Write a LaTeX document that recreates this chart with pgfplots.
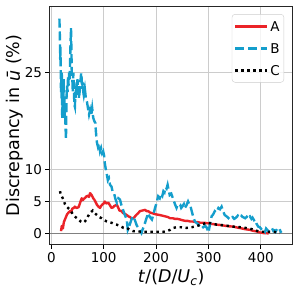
\documentclass[border=0pt]{standalone}
\usepackage{fontspec}
\setmainfont{DejaVu Sans}
\usepackage{pgfplots}
\pgfplotsset{compat=1.18}
\definecolor{cA}{RGB}{235,35,40}
\definecolor{cB}{RGB}{20,158,204}
\begin{document}
\begin{tikzpicture}
\begin{axis}[
  scale only axis, width=242.3pt, height=237pt,
  xmin=-2.5, xmax=460, ymin=-1.6, ymax=35.2,
  xtick={0,100,200,300,400}, ytick={0,5,10,25},
  grid=major, grid style={color=black!20, line width=0.9pt},
  tick align=outside, major tick length=4.5pt,
  tick style={black, line width=0.9pt}, tick pos=left,
  axis line style={black!85, line width=1pt},
  ticklabel style={font=\fontsize{13.5}{16}\selectfont},
  /pgf/number format/assume math mode=true,
  xlabel={\textit{t}/(\textit{D}/\textit{U}\textsubscript{\textit{c}})},
  ylabel={Discrepancy in \textit{ū} (\%)},
  label style={font=\fontsize{17.5}{20}\selectfont},
  xlabel style={at={(axis description cs:0.5,-0.1414)}, anchor=center},
  ylabel style={at={(axis description cs:-0.1444,0.5)}, anchor=center},
  legend style={at={(0.966,0.970)}, anchor=north east, draw=black!20,
    rounded corners=3pt, fill=white, fill opacity=0.8, text opacity=1,
    font=\fontsize{13.5}{16}\selectfont, row sep=8pt, inner xsep=2pt, inner ysep=5pt,
    nodes={inner sep=2pt, text height=10pt, text depth=0pt}},
  legend cell align=left,
  legend image code/.code={\draw[#1] (0pt,0pt) -- (32pt,0pt);},
]
\draw[black!50, line width=1.5pt] (axis cs:-2.5,0) -- (axis cs:460,0);

\addplot[cA, line width=2.4pt, line join=round] coordinates {
(18.5,0.4) (20,1.2) (22,0.8) (24,1.8) (26,2.2) (28,2.6) (30,3.0) (33,3.3) (36,3.5) (38,3.3) (40,3.9) (43,4.0) (45,4.2) (48,4.0) (52,4.1) (55,4.8) (58,5.5) (60,5.2) (62,5.4) (65,5.6) (67,5.8) (70,5.9) (72,5.7) (74,6.3) (77,6.0) (80,5.5) (82,5.3) (84,5.0) (87,4.5) (90,4.2) (93,4.0) (95,4.3) (97,4.5) (100,4.7) (102,5.0) (105,4.7) (109,4.8) (112,4.4) (115,4.0) (118,4.1) (120,4.3) (125,4.5) (128,4.0) (130,3.6) (134,3.5) (137,3.2) (140,3.1) (144,2.9) (147,2.7) (150,2.6) (153,2.4) (156,2.4) (159,2.6) (162,2.9) (166,3.2) (169,3.5) (174,3.6) (179,3.7) (182,3.5) (185,3.5) (188,3.3) (192,3.2) (196,3.1) (200,3.0) (207,2.9) (212,2.8) (217,2.7) (222,2.6) (227,2.4) (232,2.4) (236,2.3) (241,2.3) (246,2.2) (250,2.1) (255,2.0) (260,2.0) (265,1.9) (270,1.9) (275,1.8) (280,1.8) (284,1.7) (292,1.7) (300,1.6) (308,1.5) (316,1.4) (323,1.35) (330,1.25) (339,1.15) (347,1.1) (355,0.95) (362,0.85) (370,0.7) (379,0.6) (385,0.45) (392,0.35) (398,0.2) (405,0.1) (415,0.05)
};
\addlegendentry{A}

\addplot[cB, line width=2.4pt, dash pattern=on 9pt off 3.9pt] coordinates {
(15.5,33.4) (16.5,30) (17,27) (17.5,29) (18,25.4) (18.5,22) (19,24) (19.5,21) (20,25) (20.5,19) (21,18) (21.5,21) (22,23) (23,20) (23.5,24) (24,22) (24.5,19) (25,21) (25.5,18) (26,19.5) (27,17) (28,14.6) (28.5,18) (29,21) (30,23) (31,22) (32,24.5) (33,23) (34,25) (35,24) (36,27) (36.5,29) (37.6,31.9) (38.5,28) (39,25) (40,24.4) (41,22) (42,25) (43,23) (44,20) (45,19.7) (46,22) (47,21) (48,23.5) (49,22.5) (50,24) (51,22) (52,23) (53,21) (54,22) (55,23.5) (56,24) (57,25) (58,24) (59,22.5) (60,23.5) (61,22) (62,21.5) (64,22.5) (66,21) (68,20.5) (70,19.5) (72,18.5) (74,19.2) (76,18.3) (78,19.5) (80,18) (82,17.5) (84,17.2) (85,16) (86,15) (87,14.2) (89,13.5) (91,14) (93,12.8) (95,13.3) (97,12.5) (99,12.8) (101,12) (102,11) (104,10) (106,9.2) (108,8.3) (110,8.6) (112,7.6) (115,7.3) (117,6.5) (120,6.2) (122,5.5) (125,4.8) (128,5.5) (131,5.3) (134,4.4) (137,3.7) (139,3.2) (141,2.8) (144,2.2) (146,0.6) (148,1.0) (150,1.5) (153,2.2) (156,2.7) (158,2.4) (160,2) (163,1.3) (166,0.9) (169,0.5) (172,0.1) (174,0.6) (176,1) (179,1.7) (182,2.5) (185,3.2) (188,2.6) (192,2.2) (195,3.0) (198,4.0) (201,4.8) (204,5.8) (207,5.5) (210,6.2) (212,5.9) (214,6.6) (216,6.4) (218,7.2) (220,7.0) (222,7.6) (224,6.8) (226,6) (229,6.2) (233,5.3) (236,4.6) (239,4) (242,4.6) (246,4.5) (248,4.0) (250,4.2) (253,4.6) (255,4) (258,4.4) (261,5) (263,4.6) (265,4.5) (268,3.5) (271,2.6) (274,1.9) (277,1.7) (280,1.5) (284,1.1) (287,1.3) (290,1.0) (294,1.2) (297,0.9) (300,0.2) (303,1.5) (306,2.7) (309,3.0) (312,3.5) (315,3.3) (319,4.0) (322,3.8) (325,4.2) (328,3.5) (331,2.9) (336,2.6) (341,2.2) (343,2.5) (346,2.6) (349,2.3) (351,2.4) (354,2.6) (356,2.8) (358,2.6) (360,2.9) (363,2.8) (365,2.6) (368,2.5) (370,2.4) (373,2.6) (375,2.9) (377,2.6) (379,2.7) (382,2.3) (384,2.5) (387,2.1) (389,2.2) (392,1.5) (395,1.1) (398,1.0) (400,0.8) (403,0.5) (405,0.6) (408,0.3) (410,0.8) (412,0.6) (414,0.4) (416,0.5) (418,0.7) (421,0.9) (424,0.4) (426,0.5) (428,0.3) (430,0.6) (432,0.9) (435,0.8) (438,0.3) (440,0.4)
};
\addlegendentry{B}

\addplot[black, line width=2.4pt, dash pattern=on 2.4pt off 3.6pt] coordinates {
(16.7,6.6) (18,6.0) (20,5.8) (23,5.3) (26,4.6) (29,4.2) (32,4.0) (36,3.7) (39,3.3) (42,2.9) (46,2.6) (52,2.2) (56,1.9) (61,1.7) (64,1.9) (67,2.2) (70,2.7) (74,3.2) (79,3.6) (83,3.2) (87,2.9) (91,2.6) (96,2.4) (101,2.1) (106,1.9) (110,1.8) (115,1.7) (120,1.5) (125,1.4) (131,1.2) (138,0.9) (144,0.9) (150,0.6) (156,0.4) (166,0.35) (176,0.3) (186,0.3) (195,0.3) (205,0.3) (214,0.3) (220,0.4) (227,0.6) (233,0.9) (239,1.0) (248,1.0) (258,0.9) (268,1.0) (278,1.2) (290,1.5) (296,1.7) (306,1.6) (316,1.4) (330,1.3) (347,1.1) (362,1.0) (379,0.8) (390,0.5) (398,0.3) (410,0.3) (425,0.3) (436,0.1)
};
\addlegendentry{C}
\end{axis}
\pgfresetboundingbox
\path[use as bounding box] (-50pt,-46pt) rectangle (250pt,244pt);
\end{tikzpicture}
\end{document}
